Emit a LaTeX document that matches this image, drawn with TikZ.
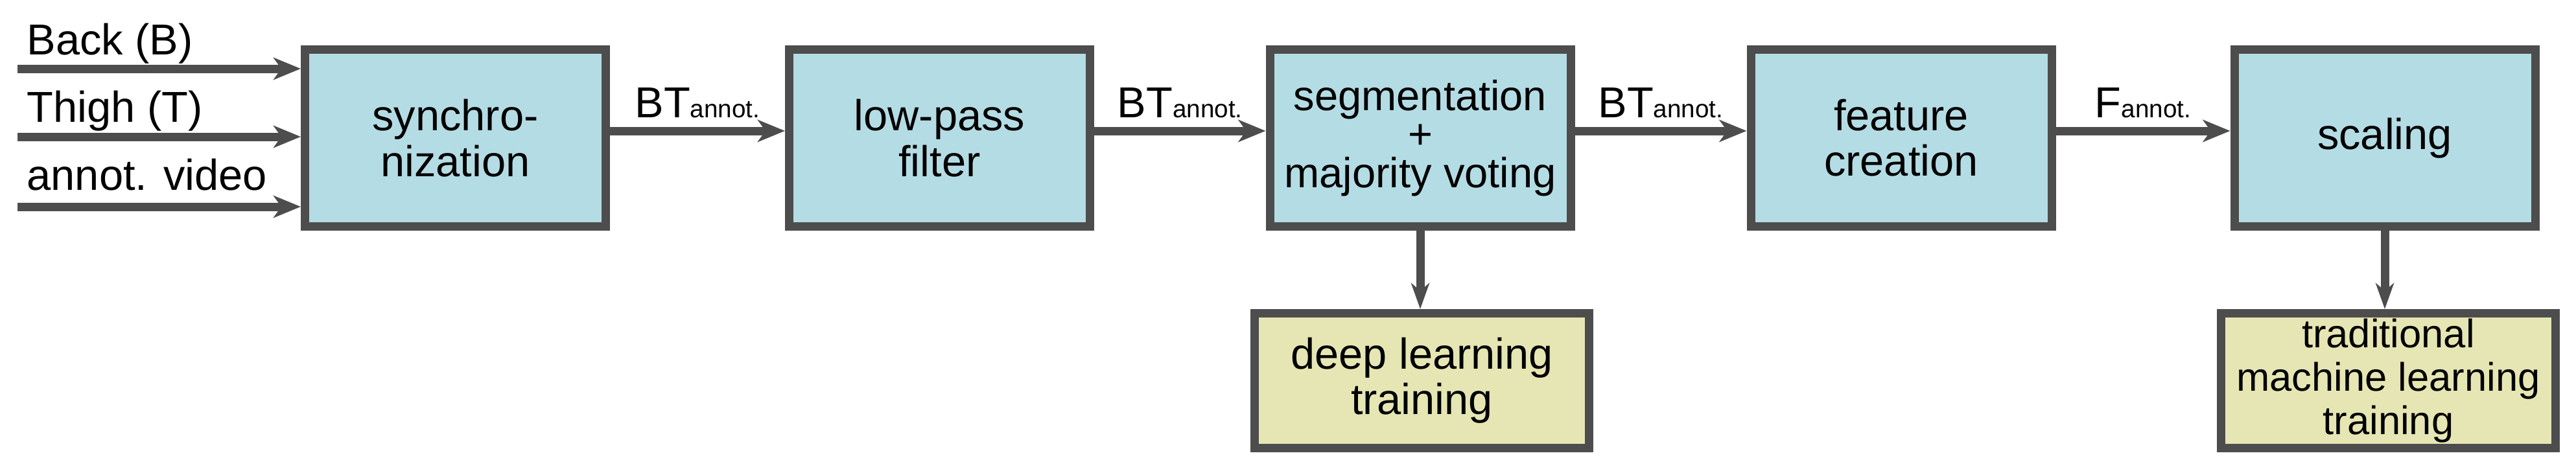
\documentclass[tikz,border=0pt]{standalone}
\usepackage{fontspec}
\setmainfont{Liberation Sans}
\usetikzlibrary{arrows.meta}
\definecolor{lc}{RGB}{77,77,77}
\definecolor{bfill}{RGB}{180,220,228}
\definecolor{yfill}{RGB}{230,230,180}
\begin{document}
\begin{tikzpicture}[x=1cm,y=1cm,
  every node/.style={font=\fontsize{19}{20}\selectfont},
  box/.style={draw=lc, line width=0.13cm, fill=bfill, minimum width=4.64cm, minimum height=2.73cm, align=center, inner sep=0pt},
  tbox/.style={draw=lc, line width=0.13cm, fill=yfill, minimum width=5.16cm, minimum height=2.08cm, align=center, inner sep=0pt},
  arr/.style={draw=lc, line width=0.13cm, -{Stealth[length=0.42cm,width=0.34cm,inset=0.12cm]}},
  varr/.style={draw=lc, line width=0.13cm, -{Stealth[length=0.40cm,width=0.28cm,inset=0.12cm]}},
  lab/.style={midway, anchor=base, yshift=0.21cm, inner sep=0pt}]
\useasboundingbox (0,0) rectangle (39.74,7.29);
\node[box] (sync) at (7.025,5.16) {synchro-\\nization};
\node[box] (lp) at (14.495,5.16) {low-pass\\filter};
\node[box, font=\fontsize{18.5}{17}\selectfont] (seg) at (21.91,5.16) {segmentation\\+\\majority voting};
\node[box] (feat) at (29.33,5.16) {feature\\creation};
\node[box] (scal) at (36.79,5.16) {scaling};
\node[tbox] (deep) at (21.935,1.415) {deep learning\\training};
\node[tbox, font=\fontsize{17.5}{19}\selectfont] (trad) at (36.845,1.415) {traditional\\machine learning\\training};
\coordinate (in1) at (0.27,6.23);
\coordinate (in2) at (0.27,5.18);
\coordinate (in3) at (0.27,4.10);
\node[anchor=base west, inner sep=0pt] (l1) at (0.41,6.45) {Back (B)};
\node[anchor=base west, inner sep=0pt] (l2) at (0.41,5.41) {Thigh (T)};
\node[anchor=base west, inner sep=0pt] (l3) at (0.41,4.36) {annot. video};
\draw[arr] (in1) -- (in1 -| sync.west);
\draw[arr] (in2) -- (in2 -| sync.west);
\draw[arr] (in3) -- (in3 -| sync.west);
\newcommand{\annsub}{{\fontsize{11}{11}\selectfont annot.}}
\draw[arr] ([yshift=1.1mm]sync.east) -- ([yshift=1.1mm]lp.west) node[lab] {BT\annsub};
\draw[arr] ([yshift=1.1mm]lp.east) -- ([yshift=1.1mm]seg.west) node[lab] {BT\annsub};
\draw[arr] ([yshift=1.1mm]seg.east) -- ([yshift=1.1mm]feat.west) node[lab] {BT\annsub};
\draw[arr] ([yshift=1.1mm]feat.east) -- ([yshift=1.1mm]scal.west) node[lab] {F\annsub};
\draw[varr] (seg.south) -- (seg.south |- deep.north);
\draw[varr] (scal.south) -- (scal.south |- trad.north);
\end{tikzpicture}
\end{document}
